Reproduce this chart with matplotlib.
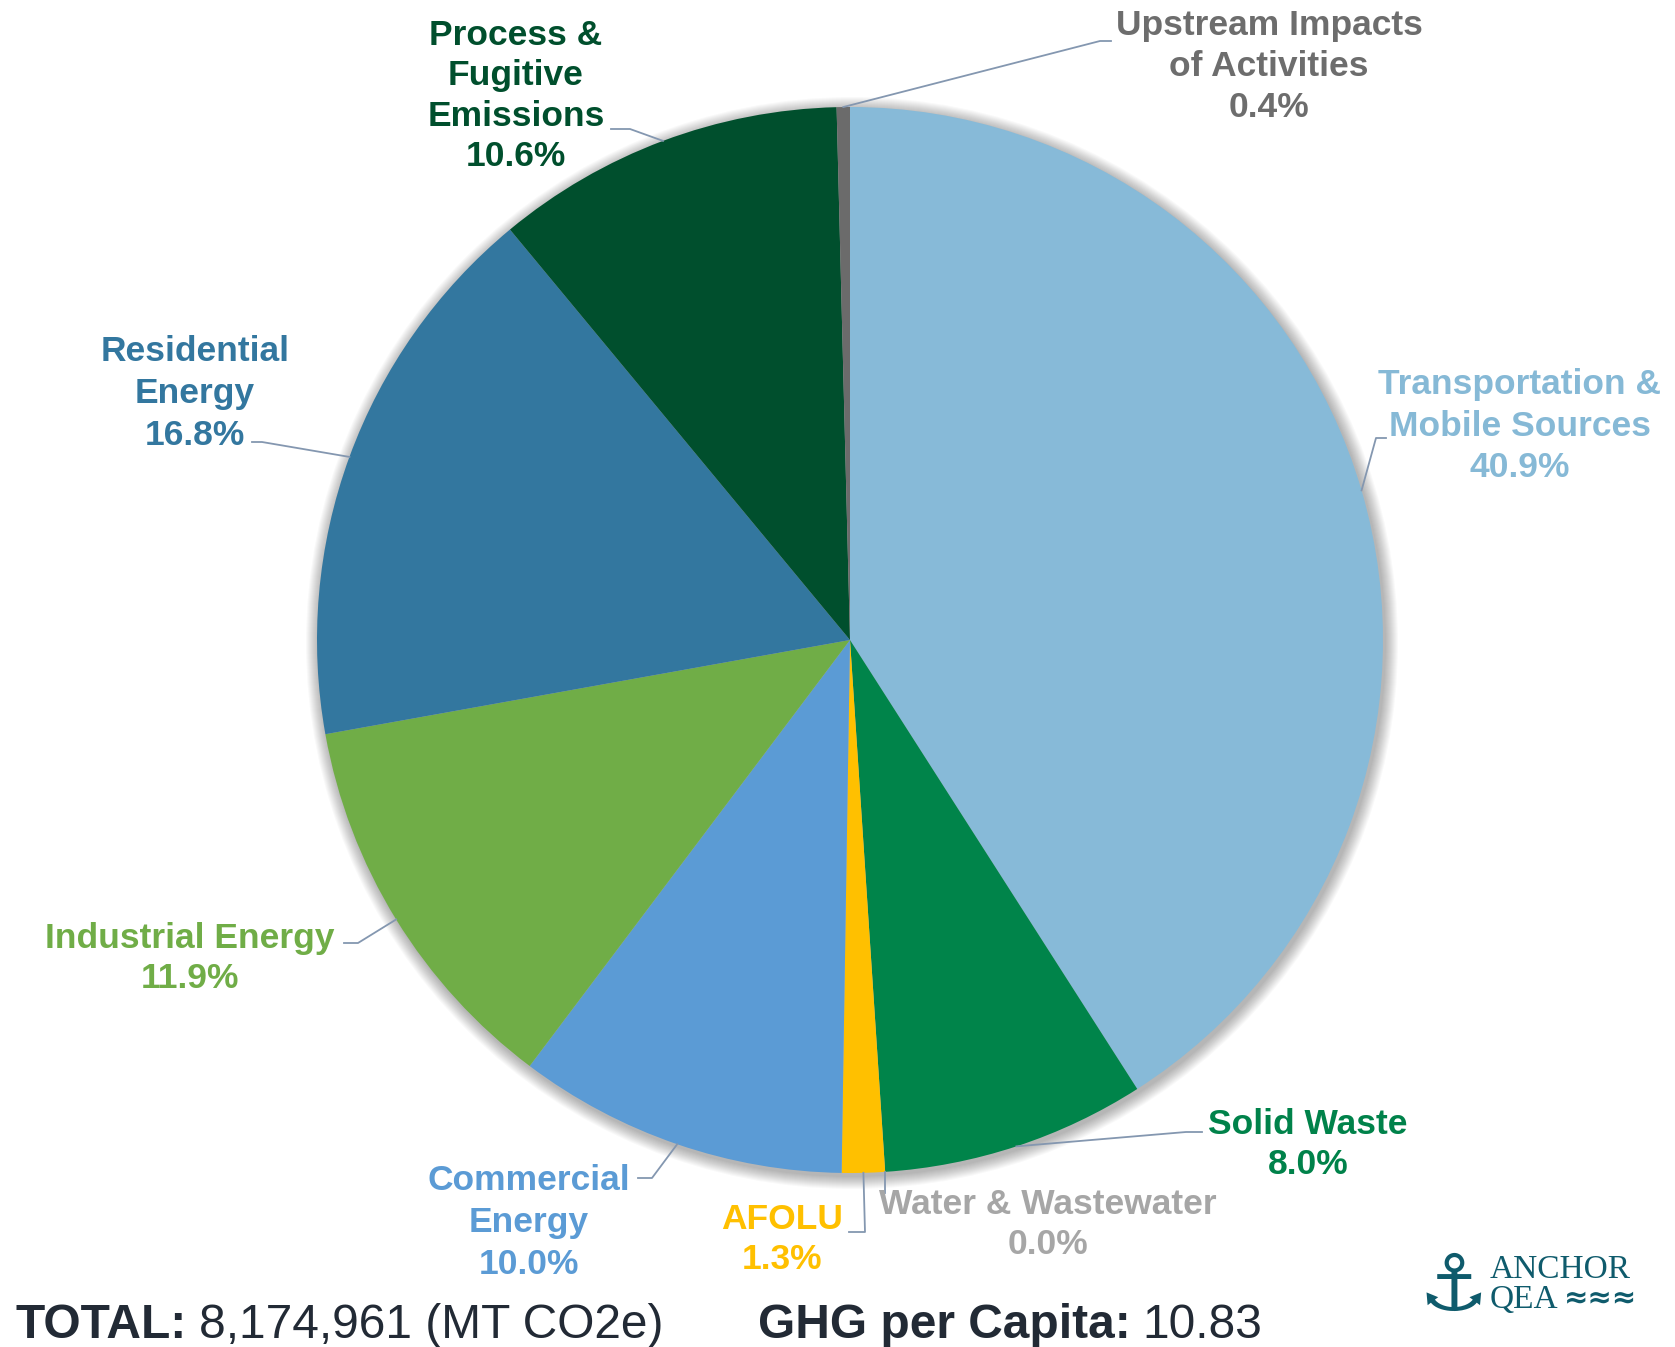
import numpy as np
import matplotlib.pyplot as plt
from matplotlib.patches import Circle

plt.rcParams['font.family'] = ['Liberation Sans', 'DejaVu Sans']

# Sector data (clockwise from 12 o'clock)
sectors = ["Transportation &\nMobile Sources", "Solid Waste", "Water & Wastewater",
           "AFOLU", "Commercial\nEnergy", "Industrial Energy", "Residential\nEnergy",
           "Process &\nFugitive\nEmissions", "Upstream Impacts\nof Activities"]
shares = [40.9, 8.0, 0.0, 1.3, 10.0, 11.9, 16.8, 10.6, 0.4]
slice_colors = ["#87bad8", "#00844a", "#a5a5a5", "#ffc000", "#5b9bd5",
                "#70ad47", "#33779f", "#004f2d", "#6b6b6b"]
text_colors = ["#86b9d6", "#00824a", "#a6a6a6", "#ffc000", "#5b9bd5",
               "#70ad47", "#33779f", "#004f2d", "#6d6d6d"]
total_emissions = "8,174,961 (MT CO2e)"
per_capita = "10.83"

W, H = 1675, 1347
CX, CY, R = 850, 640, 533   # pie centre / radius in pixels (y down)


def Y(y):
    return H - y


# label layout: text centre x, first baseline, line step, elbow, end (pixels, y down)
label_layout = [
    (1520, 394, 41.5, (1376, 438), (1386, 438)),
    (1308, 1134, 40, (1186, 1132), (1202, 1132)),
    (1048, 1214, 40, None, (887, 1193)),
    (782, 1229, 40, (865, 1232), (849, 1232)),
    (529, 1190, 42, (652, 1178), (638, 1178)),
    (190, 948, 40, (358, 943), (344, 943)),
    (195, 361, 42, (262, 442), (252, 442)),
    (516, 45, 40.5, (630, 129), (611, 129)),
    (1269, 35, 41, (1100, 41), (1111, 41)),
]

fig = plt.figure(figsize=(W / 100, H / 100), dpi=100)
ax = fig.add_axes([0, 0, 1, 1])

# soft shadow around the pie
for k in range(1, 14):
    ax.add_patch(Circle((CX + 2, Y(CY + 3)), R + k, color="black", alpha=0.022,
                        lw=0, zorder=0))

wedges, _ = ax.pie(shares, colors=slice_colors, startangle=90, counterclock=False,
                   radius=R, center=(CX, Y(CY)), wedgeprops=dict(linewidth=0))
for w in wedges:
    w.set_zorder(2)

ax.set_xlim(0, W)
ax.set_ylim(0, H)
ax.set_aspect("equal")
ax.axis("off")

leader_color = "#8497b0"
for name, share, wedge, tcol, (tx, ty, step, elbow, end) in zip(
        sectors, shares, wedges, text_colors, label_layout):
    mid = np.deg2rad((wedge.theta1 + wedge.theta2) / 2)
    sx = CX + R * np.cos(mid)
    sy = Y(CY) + R * np.sin(mid)
    if elbow is None:
        xs, ys = [sx, sx], [sy, Y(end[1])]
    else:
        xs = [sx, elbow[0], end[0]]
        ys = [sy, Y(elbow[1]), Y(end[1])]
    ax.plot(xs, ys, color=leader_color, lw=1.3, zorder=3)
    lines = name.split("\n") + [f"{share:.1f}%"]
    for i, line in enumerate(lines):
        ax.text(tx, Y(ty + i * step), line, ha="center", va="baseline",
                fontsize=25.5, fontweight="bold", color=tcol, zorder=4)

# footer: bold label followed by regular value
footer_color = "#222a35"
fig.canvas.draw()
renderer = fig.canvas.get_renderer()


def bold_then_regular(x, y, bold, regular):
    t = ax.text(x, Y(y), bold, ha="left", va="baseline", fontsize=34.5,
                fontweight="bold", color=footer_color)
    bb = t.get_window_extent(renderer=renderer)
    x1 = ax.transData.inverted().transform((bb.x1, bb.y0))[0]
    ax.text(x1 + 12, Y(y), regular, ha="left", va="baseline", fontsize=34.5,
            color=footer_color)


bold_then_regular(16, 1338, "TOTAL:", total_emissions)
bold_then_regular(758, 1338, "GHG per Capita:", per_capita)

# logo
logo_color = "#0f5b6c"
ax.text(1453, Y(1288), "\u2693", family="DejaVu Sans", fontsize=56, color=logo_color,
        ha="center", va="center")
ax.text(1490, Y(1278), "ANCHOR", family="Liberation Serif", fontsize=24,
        color=logo_color, ha="left", va="baseline")
ax.text(1490, Y(1308), "QEA", family="Liberation Serif", fontsize=24,
        color=logo_color, ha="left", va="baseline")
ax.text(1600, Y(1298), "\u2248\u2248\u2248", family="DejaVu Sans", fontsize=21,
        fontweight="bold", color=logo_color, ha="center", va="center")

fig.savefig("out.png", dpi=100, facecolor="white")
